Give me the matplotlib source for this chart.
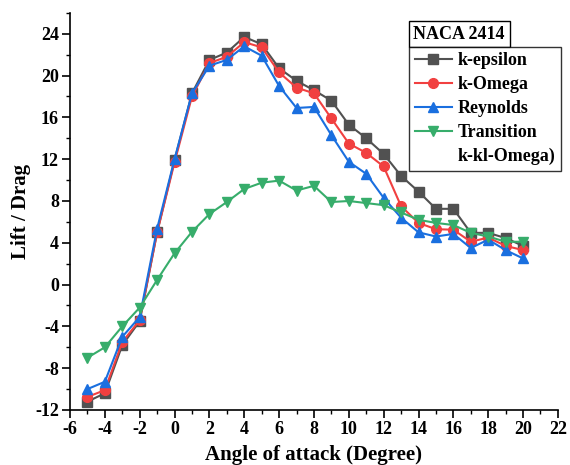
import matplotlib.pyplot as plt
from matplotlib.lines import Line2D
from matplotlib.ticker import MultipleLocator

plt.rcParams['font.family'] = ['Liberation Serif', 'DejaVu Serif']
plt.rcParams['font.weight'] = 'bold'
plt.rcParams['axes.unicode_minus'] = False

angle = list(range(-5, 21))
k_epsilon = [-11.2, -10.4, -5.8, -3.5, 5.0, 11.9, 18.3, 21.5, 22.2, 23.7, 23.0, 20.7,
             19.5, 18.6, 17.6, 15.3, 14.0, 12.5, 10.4, 8.9, 7.25, 7.25, 4.95, 4.95, 4.45, 3.7]
k_omega = [-10.75, -10.1, -5.5, -3.4, 5.0, 11.7, 18.0, 21.2, 21.8, 23.2, 22.7, 20.3,
           18.85, 18.3, 15.9, 13.5, 12.6, 11.3, 7.5, 5.9, 5.3, 5.25, 4.1, 4.5, 3.7, 3.3]
reynolds = [-10.0, -9.3, -5.0, -3.1, 5.35, 12.0, 18.3, 20.95, 21.5, 22.8, 21.9, 19.0,
            16.9, 17.0, 14.3, 11.75, 10.6, 8.3, 6.4, 5.0, 4.6, 4.85, 3.5, 4.3, 3.3, 2.5]
transition = [-7.0, -6.0, -4.0, -2.2, 0.45, 3.0, 5.05, 6.75, 7.9, 9.15, 9.75, 9.95,
              9.0, 9.45, 7.9, 8.0, 7.8, 7.6, 6.9, 6.2, 5.9, 5.7, 4.95, 4.6, 4.1, 4.1]

series = [
    ('k-epsilon', k_epsilon, '#515151', 's'),
    ('k-Omega', k_omega, '#F14040', 'o'),
    ('Reynolds', reynolds, '#1A6FDF', '^'),
    ('Transition', transition, '#37AD6B', 'v'),
]

fig = plt.figure(figsize=(5.7, 4.65), dpi=100)
ax = fig.add_axes([0.1228, 0.1183, 0.856, 0.854])

for name, vals, col, mk in series:
    ax.plot(angle, vals, color=col, marker=mk, markersize=7, linewidth=1.5, label=name)

ax.set_xlim(-6, 22)
ax.set_ylim(-12, 26)
ax.xaxis.set_major_locator(MultipleLocator(2))
ax.xaxis.set_minor_locator(MultipleLocator(1))
ax.set_yticks(range(-12, 25, 4))
ax.yaxis.set_minor_locator(MultipleLocator(2))
ax.tick_params(which='major', direction='out', length=6, width=1.2, labelsize=13, pad=2)
ax.tick_params(which='minor', direction='out', length=3, width=1)
ax.spines['top'].set_visible(False)
ax.spines['right'].set_visible(False)
ax.spines['left'].set_linewidth(1.2)
ax.spines['bottom'].set_linewidth(1.2)

ax.set_xlabel('Angle of attack (Degree)', fontsize=15, fontweight='bold', labelpad=5)
ax.set_ylabel('Lift / Drag', fontsize=15, fontweight='bold', labelpad=3)

# last legend row is the wrapped rest of the "Transition" label
handles, labels = ax.get_legend_handles_labels()
handles.append(Line2D([], [], color='none'))
labels.append('k-kl-Omega)')
leg = ax.legend(handles, labels, loc='upper left', bbox_to_anchor=(0.695, 0.914),
                frameon=True, fancybox=False, edgecolor='black', fontsize=13,
                borderpad=0.3, labelspacing=0.38, handlelength=2.1, handletextpad=0.3,
                borderaxespad=0)
leg.get_frame().set_linewidth(1.0)

ax.text(0.704, 0.925, 'NACA 2414', transform=ax.transAxes, fontsize=13, fontweight='bold',
        ha='left', va='bottom',
        bbox=dict(boxstyle='square,pad=0.25', facecolor='white', edgecolor='black', linewidth=1.0))

fig.savefig('out.png', dpi=100)
